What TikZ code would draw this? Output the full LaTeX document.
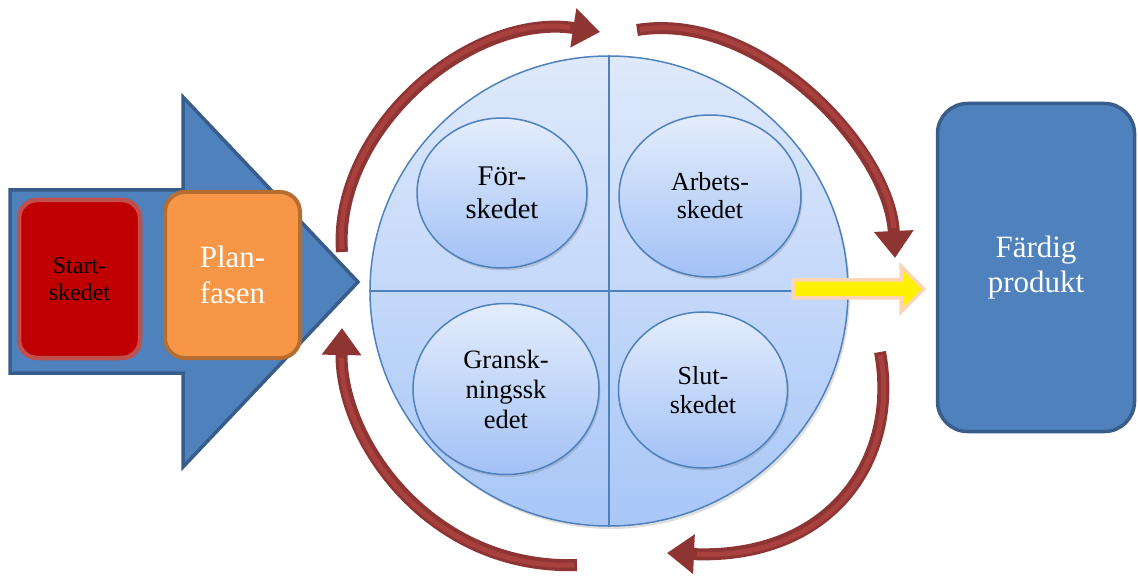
\documentclass[tikz,border=0pt]{standalone}
\usepackage{fontspec}
\setmainfont{Liberation Serif}
\usetikzlibrary{shapes.geometric,arrows.meta,shadows}
\tikzset{
  hjul/.style={
    ellipse,
    draw=pilblaa,
    line width=1.5pt,
    top color=hjulljus,
    bottom color=hjulmork,
    inner sep=0pt,
    drop shadow={opacity=0.25,shadow xshift=2pt,shadow yshift=-3pt}
  },
  delning/.style={
    draw=pilblaa,
    line width=1.5pt
  },
  skede/.style={
    ellipse,
    draw=pilblaa,
    line width=1.5pt,
    top color=skljus,
    bottom color=skmork,
    inner sep=0pt,
    align=center,
    drop shadow={opacity=0.3,shadow xshift=1.5pt,shadow yshift=-2.5pt}
  },
  fasbox/.style={
    rectangle,
    inner sep=0pt,
    align=center
  },
  cykelpil/.style={
    draw=pilrod,
    line width=12pt,
    -{Triangle[length=27pt,width=38pt]}
  },
  pilglans/.style={
    draw=pilljus,
    line width=5pt,
    shorten <=3pt,
    shorten >=30pt
  }
}

\begin{document}
\begin{tikzpicture}[x=1pt,y=-1pt]

    % färger
    \definecolor{pilblaa}{HTML}{4F81BD}
    \definecolor{kantblaa}{HTML}{385D8A}
    \definecolor{hjulljus}{HTML}{DFE9FB}
    \definecolor{hjulmork}{HTML}{A8C7F8}
    \definecolor{skljus}{HTML}{E4EDFC}
    \definecolor{skmork}{HTML}{A2C1F6}
    \definecolor{startrod}{HTML}{C00000}
    \definecolor{startkant}{HTML}{C0504D}
    \definecolor{planorange}{HTML}{F79646}
    \definecolor{plankant}{HTML}{B66D31}
    \definecolor{pilrod}{HTML}{8E3533}
    \definecolor{pilljus}{HTML}{A8413E}
    \definecolor{gulkant}{HTML}{FBD5B5}

    \useasboundingbox (0,0) rectangle (1138,585);

    % hjulet
    \node[hjul,minimum width=478pt,minimum height=470pt] (hjul) at (609,291) {};
    \draw[delning] (hjul.north) -- (hjul.south);
    \draw[delning] (hjul.west) -- (hjul.east);

    % de fyra skedena
    \node[skede,minimum width=170pt,minimum height=150pt,font=\fontsize{28.5}{33}\selectfont]
        (forskede) at (502,193) {För-\\skedet};
    \node[skede,minimum width=182pt,minimum height=162pt,font=\fontsize{26}{28}\selectfont]
        (arbskede) at (710,196) {Arbets-\\skedet};
    \node[skede,minimum width=186pt,minimum height=171pt,font=\fontsize{26.5}{30}\selectfont]
        (granskede) at (506,389) {Gransk-\\ningssk\\edet};
    \node[skede,minimum width=169pt,minimum height=156pt,font=\fontsize{26}{29}\selectfont]
        (slutskede) at (703,390) {Slut-\\skedet};

    % runda pilar
    \coordinate (p1a) at (342,252);
    \coordinate (p1b) at (600,32);
    \coordinate (p2a) at (637,30);
    \coordinate (p2b) at (895,258);
    \coordinate (p3a) at (880,352);
    \coordinate (p3b) at (667,553);
    \coordinate (p4a) at (577,565);
    \coordinate (p4b) at (342,328);
    \draw[cykelpil] (p1a) .. controls (333,130) and (470,12) .. (p1b);
    \draw[cykelpil] (p2a) .. controls (760,10) and (890,150) .. (p2b);
    \draw[cykelpil] (p3a) .. controls (900,460) and (830,560) .. (p3b);
    \draw[cykelpil] (p4a) .. controls (430,570) and (340,440) .. (p4b);
    \draw[pilglans] (p1a) .. controls (333,130) and (470,12) .. (p1b);
    \draw[pilglans] (p2a) .. controls (760,10) and (890,150) .. (p2b);
    \draw[pilglans] (p3a) .. controls (900,460) and (830,560) .. (p3b);
    \draw[pilglans] (p4a) .. controls (430,570) and (340,440) .. (p4b);

    % stora blå pilen
    \draw[fill=pilblaa,draw=kantblaa,line width=3.5pt,line join=miter]
        (10,190) -- (183,190) -- (183,97) -- (358,282) -- (183,467)
        -- (183,373) -- (10,373) -- cycle;

    \node[fasbox,fill=startrod,draw=startkant,line width=4.5pt,rounded corners=18pt,
          minimum width=121pt,minimum height=158pt,font=\fontsize{24}{27}\selectfont]
        (start) at (79.5,279) {Start-\\skedet};
    \node[fasbox,fill=planorange,draw=plankant,line width=4pt,rounded corners=20pt,
          minimum width=135pt,minimum height=166pt,text=white,font=\fontsize{31}{36}\selectfont]
        (plan) at (232.5,275) {Plan-\\fasen};

    % gul pil
    \draw[fill=yellow,draw=gulkant,line width=3.5pt,line join=miter]
        (793,280) -- (901,280) -- (901,266) -- (924,289) -- (901,312)
        -- (901,298) -- (793,298) -- cycle;

    % färdig produkt
    \node[fasbox,fill=pilblaa,draw=kantblaa,line width=3.5pt,rounded corners=30pt,
          minimum width=197pt,minimum height=328pt,text=white,font=\fontsize{31}{35}\selectfont]
        (fardig) at (1036,267.5) {Färdig\\produkt};

\end{tikzpicture}
\end{document}
